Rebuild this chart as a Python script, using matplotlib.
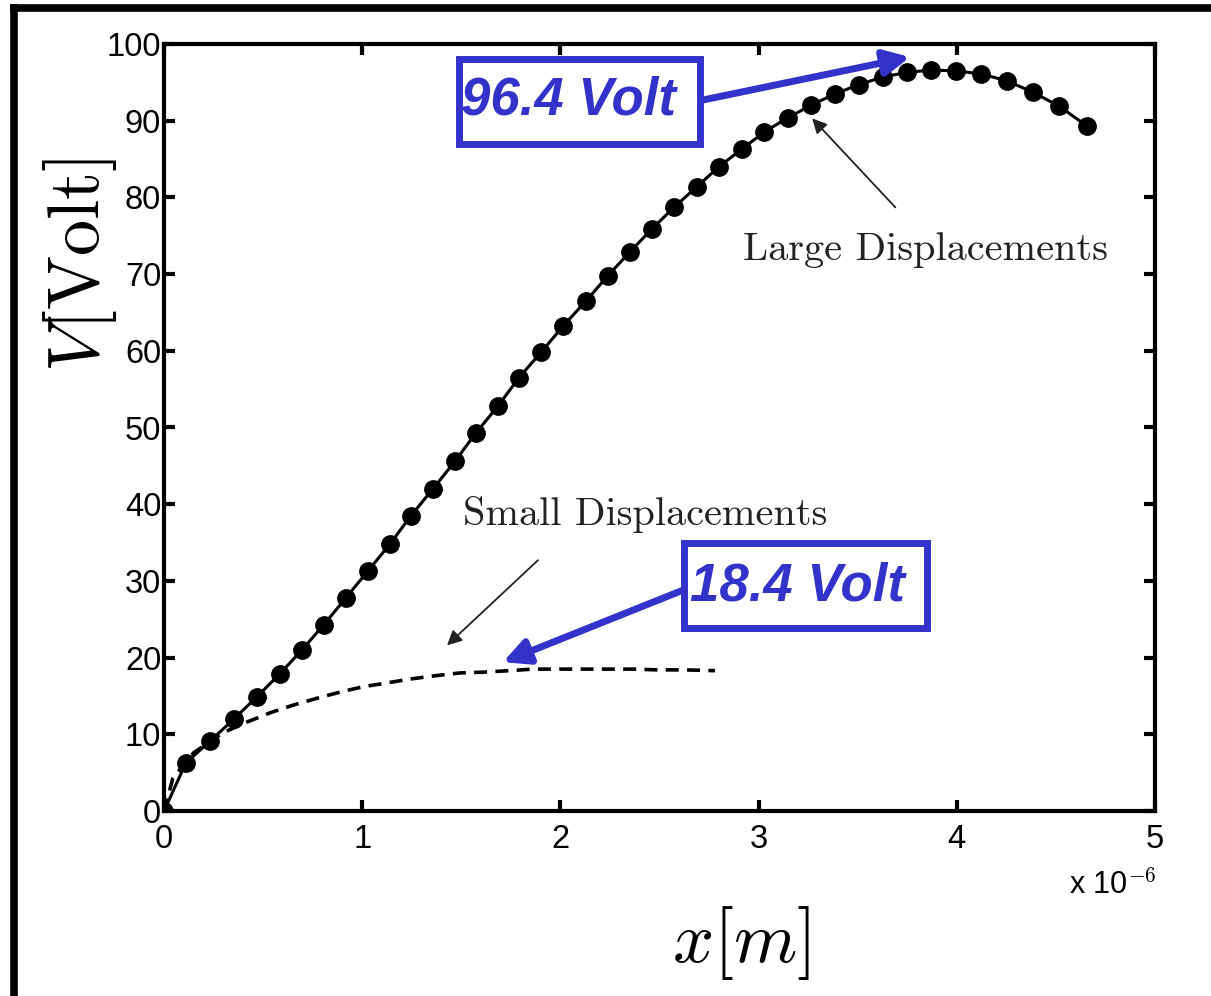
import numpy as np
import matplotlib.pyplot as plt
from matplotlib.lines import Line2D
from matplotlib.patches import Rectangle

plt.rcParams['mathtext.fontset'] = 'cm'
plt.rcParams['font.family'] = ['Liberation Sans', 'DejaVu Sans']

# x in units of 1e-6 m, V in Volt
x_large = [0.0, 0.111, 0.232, 0.353, 0.469, 0.585, 0.696, 0.807, 0.918, 1.029,
           1.140, 1.246, 1.357, 1.468, 1.574, 1.685, 1.791, 1.902, 2.013, 2.129,
           2.240, 2.351, 2.462, 2.573, 2.689, 2.800, 2.916, 3.027, 3.148, 3.264,
           3.385, 3.506, 3.627, 3.749, 3.870, 3.996, 4.122, 4.253, 4.385, 4.516, 4.657]
v_large = [0.0, 6.3, 9.1, 12.0, 14.9, 17.9, 21.0, 24.3, 27.8, 31.3,
           34.8, 38.5, 42.0, 45.6, 49.3, 52.8, 56.5, 59.8, 63.2, 66.5,
           69.8, 72.9, 75.9, 78.7, 81.4, 84.0, 86.3, 88.5, 90.4, 92.0,
           93.5, 94.7, 95.7, 96.3, 96.6, 96.5, 96.1, 95.2, 93.7, 91.9, 89.3]

x_small = [0.0, 0.045, 0.15, 0.298, 0.419, 0.535, 0.651, 0.772, 0.888, 1.004,
           1.125, 1.241, 1.357, 1.493, 1.61, 1.746, 1.862, 1.98, 2.1, 2.235,
           2.37, 2.49, 2.62, 2.78]
v_small = [0.0, 4.3, 7.6, 10.2, 11.6, 12.8, 13.8, 14.7, 15.5, 16.2,
           16.7, 17.2, 17.6, 18.0, 18.1, 18.3, 18.5, 18.5, 18.5, 18.5,
           18.5, 18.4, 18.4, 18.3]

x_ticks = [0, 1, 2, 3, 4, 5]
y_ticks = [0, 10, 20, 30, 40, 50, 60, 70, 80, 90, 100]

blue = '#3333cc'
grey = '#222222'

fig = plt.figure(figsize=(12.11, 9.96), dpi=100)
ax = fig.add_axes([164/1211, 1-811/996, (1155-164)/1211, (811-44)/996])

ax.plot(x_small, v_small, color='k', lw=2.6, dashes=(3.6, 2.3))
ax.plot(x_large, v_large, color='k', lw=2.2, marker='o', ms=12.5, mfc='k', mec='k')

ax.set_xlim(0, 5)
ax.set_ylim(0, 100)
ax.set_xticks(x_ticks)
ax.set_yticks(y_ticks)
for s in ax.spines.values():
    s.set_linewidth(3)
ax.tick_params(direction='in', length=8, width=3, labelsize=23.5,
               top=True, right=True)
ax.tick_params(axis='x', pad=9)
ax.tick_params(axis='y', pad=2)

# thin black pointers
ax.annotate('', xy=(3.27, 90.3), xytext=(3.69, 78.7),
            arrowprops=dict(arrowstyle='-|>', color=grey, lw=1.3,
                            mutation_scale=22, shrinkA=0, shrinkB=0))
ax.text(3.84, 73.1, 'Large Displacements', fontfamily='cmr10', fontsize=29,
        ha='center', va='center', color=grey)
ax.annotate('', xy=(1.428, 21.6), xytext=(1.887, 32.7),
            arrowprops=dict(arrowstyle='-|>', color=grey, lw=1.3,
                            mutation_scale=22, shrinkA=0, shrinkB=0))
ax.text(2.43, 38.6, 'Small Displacements', fontfamily='cmr10', fontsize=29,
        ha='center', va='center', color=grey)

# blue callouts
ax.add_patch(Rectangle((1.486, 87.0), 2.702-1.486, 98.1-87.0, fill=False,
                       ec=blue, lw=5, clip_on=False))
ax.text(1.50, 92.6, '96.4 Volt', color=blue, fontsize=38, fontweight='bold',
        fontstyle='italic', ha='left', va='center')
ax.annotate('', xy=(3.764, 98.3), xytext=(2.72, 92.7),
            arrowprops=dict(arrowstyle='-|>', color=blue, lw=5,
                            mutation_scale=38, shrinkA=0, shrinkB=0),
            annotation_clip=False)

ax.add_patch(Rectangle((2.626, 23.8), 3.852-2.626, 34.9-23.8, fill=False,
                       ec=blue, lw=5, clip_on=False))
ax.text(2.654, 29.3, '18.4 Volt', color=blue, fontsize=38, fontweight='bold',
        fontstyle='italic', ha='left', va='center')
ax.annotate('', xy=(1.71, 19.4), xytext=(2.619, 28.8),
            arrowprops=dict(arrowstyle='-|>', color=blue, lw=5,
                            mutation_scale=38, shrinkA=0, shrinkB=0))

# axis labels and exponent
fig.text(1156/1211, 1-885/996, r'x 10$^{-6}$', fontsize=22, ha='right', va='center')
fig.text(741/1211, 1-943/996, r'$x[m]$', fontsize=52, ha='center', va='center')
fig.text(80/1211, 1-265/996, r'$V[\mathrm{Volt}]$', fontsize=52, ha='center',
         va='center', rotation=90)

# outer frame
fig.add_artist(Line2D([14/1211, 14/1211], [0, 1-8/996], transform=fig.transFigure,
                      color='k', lw=5.5, solid_capstyle='projecting'))
fig.add_artist(Line2D([14/1211, 1], [1-8.5/996, 1-8.5/996], transform=fig.transFigure,
                      color='k', lw=5.5, solid_capstyle='projecting'))

fig.savefig('out.png', dpi=100)
